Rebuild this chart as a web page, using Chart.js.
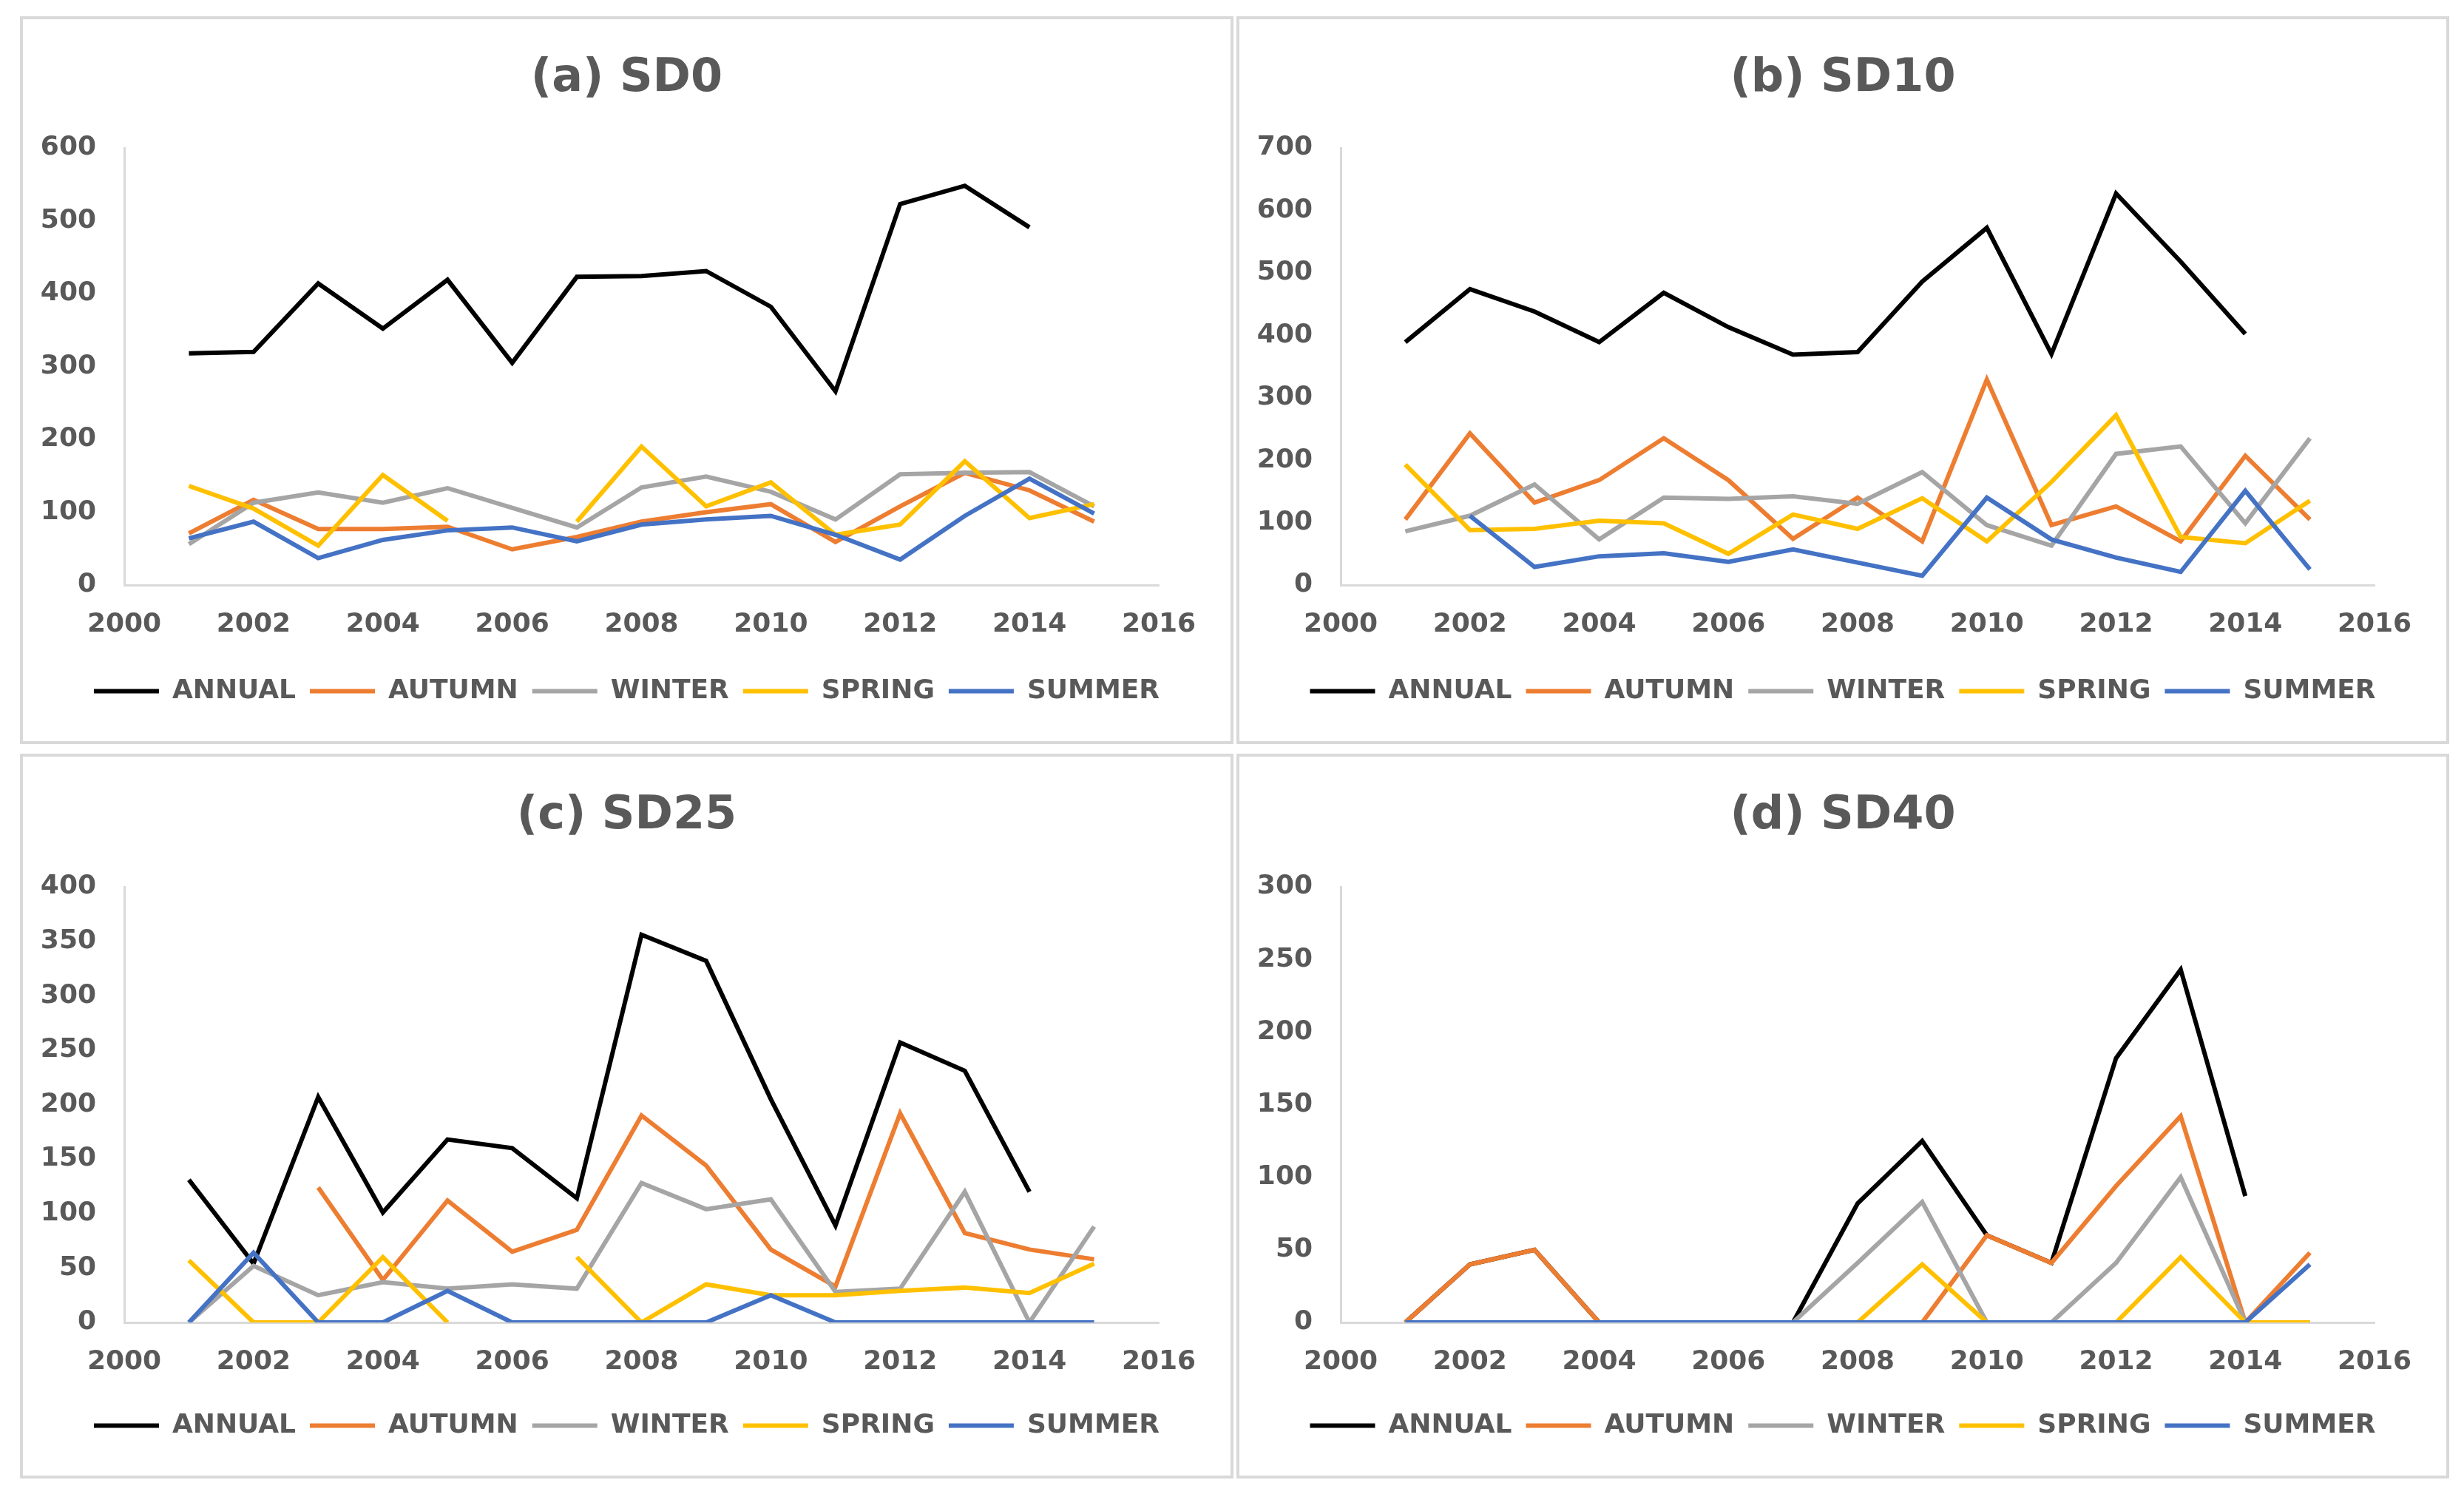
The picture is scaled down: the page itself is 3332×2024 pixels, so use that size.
<!DOCTYPE html>
<html>
<head>
<meta charset="utf-8">
<script src="https://cdn.jsdelivr.net/npm/chart.js@4.4.1/dist/chart.umd.min.js"></script>
<style>
  body { margin: 0; background: #ffffff; width: 3332px; height: 2024px; position: relative; overflow: hidden; }
  .panel { position: absolute; box-sizing: border-box; border: 4px solid #d9d9d9; background: #fff; }
  #pa { left: 27px; top: 22px; width: 1641px; height: 984px; }
  #pb { left: 1672px; top: 22px; width: 1640px; height: 984px; }
  #pc { left: 27px; top: 1019px; width: 1641px; height: 980px; }
  #pd { left: 1672px; top: 1019px; width: 1640px; height: 980px; }
</style>
</head>
<body>
<div class="panel" id="pa"><canvas id="chartA"></canvas></div>
<div class="panel" id="pb"><canvas id="chartB"></canvas></div>
<div class="panel" id="pc"><canvas id="chartC"></canvas></div>
<div class="panel" id="pd"><canvas id="chartD"></canvas></div>
<script>
const years = [2001, 2002, 2003, 2004, 2005, 2006, 2007, 2008, 2009, 2010, 2011, 2012, 2013, 2014, 2015];
const xTicks = [2000, 2016, 2];
const seasonNames = ["ANNUAL", "AUTUMN", "WINTER", "SPRING", "SUMMER"];
const seasonColors = ["#000000", "#ED7D31", "#A5A5A5", "#FFC000", "#4472C4"];

// (a) SD0
const sd0Annual = [318, 320, 414, 352, 419, 305, 423, 424, 431, 382, 266, 523, 548, 491, null];
const sd0Autumn = [71, 117, 77, 77, 80, 49, 66, 87, 100, 111, 59, 108, 154, 130, 87];
const sd0Winter = [56, 113, 127, 113, 133, 106, 79, 134, 149, 128, 90, 152, 154, 155, 108];
const sd0Spring = [136, 105, 54, 151, 88, null, 87, 190, 108, 141, 69, 83, 170, 92, 111];
const sd0Summer = [64, 87, 37, 62, 75, 79, 60, 83, 90, 95, 69, 35, 95, 146, 98];

// (b) SD10
const sd10Annual = [389, 474, 438, 389, 468, 413, 369, 373, 486, 572, 370, 627, 518, 402, null];
const sd10Autumn = [105, 243, 132, 168, 235, 168, 74, 140, 70, 329, 96, 126, 70, 207, 105];
const sd10Winter = [86, 111, 161, 73, 140, 138, 142, 130, 181, 96, 63, 210, 222, 99, 235];
const sd10Spring = [193, 88, 90, 103, 99, 50, 113, 90, 139, 70, 165, 272, 77, 67, 135];
const sd10Summer = [null, 111, 29, 46, 51, 37, 57, 36, 15, 140, 73, 44, 21, 151, 25];

// (c) SD25
const sd25Annual = [131, 54, 207, 101, 168, 160, 114, 356, 332, 205, 89, 257, 231, 120, null];
const sd25Autumn = [null, null, 124, 39, 112, 65, 85, 190, 144, 67, 33, 192, 82, 67, 58];
const sd25Winter = [0, 52, 25, 37, 31, 35, 31, 128, 104, 113, 28, 31, 120, 0, 88];
const sd25Spring = [57, 0, 0, 60, 0, null, 60, 0, 35, 25, 25, 29, 32, 27, 54];
const sd25Summer = [0, 64, 0, 0, 29, 0, 0, 0, 0, 25, 0, 0, 0, 0, 0];

// (d) SD40
const sd40Annual = [0, 40, 50, 0, 0, 0, 0, 82, 125, 60, 41, 182, 243, 87, null];
const sd40Autumn = [0, 40, 50, 0, 0, 0, 0, 0, 0, 60, 41, 94, 142, 0, 48];
const sd40Winter = [0, 0, 0, 0, 0, 0, 0, 41, 83, 0, 0, 41, 100, 0, 0];
const sd40Spring = [0, 0, 0, 0, 0, 0, 0, 0, 40, 0, 0, 0, 45, 0, 0];
const sd40Summer = [0, 0, 0, 0, 0, 0, 0, 0, 0, 0, 0, 0, 0, 0, 40];

const textColor = "#595959";
const fontFamily = "'DejaVu Sans', 'Liberation Sans', Arial, sans-serif";

// title and legend are centred on the whole panel, not only on the padded area
const centreBlocks = {
    id: "centreBlocks",
    afterLayout(chart) {
        [chart.titleBlock, chart.legend].forEach((box) => {
            if (box) { box.left = 0; box.right = chart.width; }
        });
    },
};

function makeChart(id, title, yMax, yStep, series, canvasH, plotTop) {
    const ctx = document.getElementById(id).getContext("2d");
    const legendFont = 36;
    const legendPad = 19;
    const legendCenter = canvasH - 67.5;
    const legendTop = legendCenter - legendPad - legendFont / 2;
    const legendH = legendFont + legendPad + 10;
    const titleSize = 62;
    const titleLine = titleSize * 1.2;
    const titlePadTop = 81 - titleLine / 2;
    const datasets = series.map((vals, i) => ({
        label: seasonNames[i],
        data: years.map((yr, k) => ({ x: yr, y: vals[k] })),
        borderColor: seasonColors[i],
        backgroundColor: seasonColors[i],
        borderWidth: 6,
        pointRadius: 0,
        pointHoverRadius: 0,
        tension: 0,
        spanGaps: false,
        fill: false,
        order: 5 - i,
    }));
    return new Chart(ctx, {
        type: "line",
        data: { datasets: datasets },
        plugins: [centreBlocks],
        options: {
            responsive: true,
            maintainAspectRatio: false,
            animation: false,
            layout: { padding: { left: 0, right: 97, top: 0, bottom: canvasH - legendTop - legendH } },
            plugins: {
                title: {
                    display: true,
                    text: title,
                    color: textColor,
                    font: { family: fontFamily, size: titleSize, weight: "bold" },
                    padding: { top: titlePadTop, bottom: plotTop - titlePadTop - titleLine },
                },
                legend: {
                    display: true,
                    position: "bottom",
                    labels: {
                        usePointStyle: true,
                        pointStyle: "line",
                        pointStyleWidth: 88,
                        padding: legendPad,
                        color: textColor,
                        font: { family: fontFamily, size: legendFont, weight: "bold" },
                        sort: (a, b) => a.datasetIndex - b.datasetIndex,
                    },
                },
                tooltip: { enabled: false },
            },
            scales: {
                x: {
                    type: "linear",
                    min: xTicks[0],
                    max: xTicks[1],
                    grid: { display: false, drawTicks: false },
                    border: { display: true, color: "#d9d9d9", width: 3 },
                    ticks: {
                        stepSize: xTicks[2],
                        padding: 32,
                        color: textColor,
                        font: { family: fontFamily, size: 36, weight: "bold" },
                        maxRotation: 0,
                        callback: (v) => String(v),
                    },
                    afterFit: (scale) => { scale.height = legendTop - 765; },
                },
                y: {
                    min: 0,
                    max: yMax,
                    grid: { display: false, drawTicks: false },
                    border: { display: true, color: "#d9d9d9", width: 3 },
                    ticks: {
                        stepSize: yStep,
                        padding: 38,
                        color: textColor,
                        font: { family: fontFamily, size: 36, weight: "bold" },
                    },
                    afterFit: (scale) => { scale.width = 137; },
                },
            },
        },
    });
}

makeChart("chartA", "(a) SD0", 600, 100, [sd0Annual, sd0Autumn, sd0Winter, sd0Spring, sd0Summer], 976, 174);
makeChart("chartB", "(b) SD10", 700, 100, [sd10Annual, sd10Autumn, sd10Winter, sd10Spring, sd10Summer], 976, 174);
makeChart("chartC", "(c) SD25", 400, 50, [sd25Annual, sd25Autumn, sd25Winter, sd25Spring, sd25Summer], 972, 176);
makeChart("chartD", "(d) SD40", 300, 50, [sd40Annual, sd40Autumn, sd40Winter, sd40Spring, sd40Summer], 972, 176);
</script>
</body>
</html>
